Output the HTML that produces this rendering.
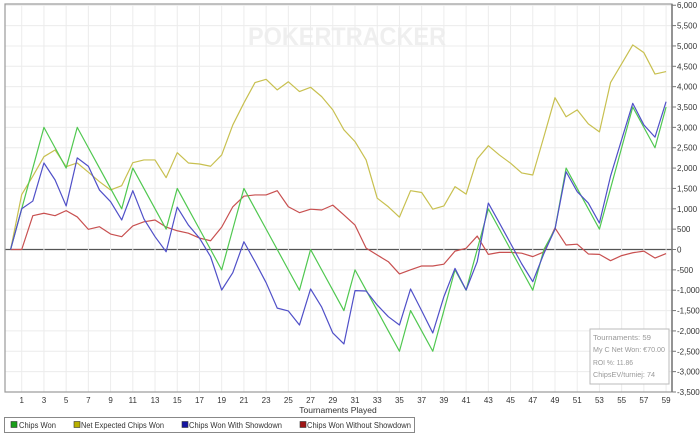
<!DOCTYPE html>
<html><head><meta charset="utf-8"><style>
body{margin:0;background:#fff;}
svg{display:block;font-family:"Liberation Sans",sans-serif;}
</style></head><body>
<svg id="chart" width="700" height="440" viewBox="0 0 700 440">
<rect x="0" y="0" width="700" height="440" fill="#fff"/>
<text x="248" y="45" font-size="25" font-weight="bold" fill="#efefef" textLength="198" lengthAdjust="spacingAndGlyphs">POKERTRACKER</text>
<g id="grid"></g>
<g id="axes"></g>
<g id="series"></g>
<rect x="5" y="4" width="667" height="388" fill="none" stroke="#9a9a9a" stroke-width="1.2"/>
<line x1="672" y1="4" x2="672" y2="392" stroke="#777" stroke-width="1.5"/>
<text x="338" y="413" font-size="8.5" fill="#333" text-anchor="middle">Tournaments Played</text>
<g>
<rect x="590" y="329" width="79" height="55" fill="#fff" stroke="#bbb"/>
<text x="593" y="340" font-size="7" fill="#999" textLength="58" lengthAdjust="spacingAndGlyphs">Tournaments: 59</text>
<text x="593" y="352" font-size="7" fill="#999" textLength="72" lengthAdjust="spacingAndGlyphs">My C Net Won: €70.00</text>
<text x="593" y="365" font-size="7" fill="#999" textLength="40" lengthAdjust="spacingAndGlyphs">ROI %: 11.86</text>
<text x="593" y="377" font-size="7" fill="#999" textLength="62" lengthAdjust="spacingAndGlyphs">ChipsEV/turniej: 74</text>
</g>
<g>
<rect x="4.5" y="417.5" width="410" height="15" fill="#fff" stroke="#888"/>
<g><rect x="11" y="421.5" width="6" height="6" fill="#1a9f1a" stroke="#333" stroke-width="0.6"/><text x="19" y="428" font-size="8" fill="#333" textLength="37" lengthAdjust="spacingAndGlyphs">Chips Won</text></g>
<g><rect x="74" y="421.5" width="6" height="6" fill="#b8b000" stroke="#333" stroke-width="0.6"/><text x="81" y="428" font-size="8" fill="#333" textLength="83" lengthAdjust="spacingAndGlyphs">Net Expected Chips Won</text></g>
<g><rect x="182" y="421.5" width="6" height="6" fill="#1515a0" stroke="#333" stroke-width="0.6"/><text x="189" y="428" font-size="8" fill="#333" textLength="93" lengthAdjust="spacingAndGlyphs">Chips Won With Showdown</text></g>
<g><rect x="300" y="421.5" width="6" height="6" fill="#a01515" stroke="#333" stroke-width="0.6"/><text x="307" y="428" font-size="8" fill="#333" textLength="104" lengthAdjust="spacingAndGlyphs">Chips Won Without Showdown</text></g>
</g>
</svg>
<script>
const chipsWon=[0,1000,2000,3000,2500,2000,3000,2500,2000,1500,1000,2000,1500,1000,500,1500,1000,500,0,-500,500,1500,1000,500,0,-500,-1000,0,-500,-1000,-1500,-500,-1000,-1500,-2000,-2500,-1500,-2000,-2500,-1500,-500,-1000,0,1000,500,0,-500,-1000,0,500,2000,1500,1000,500,1500,2500,3500,3000,2500,3500];
const netExpected=[0,1350,1800,2280,2445,2035,2125,1900,1666,1462,1568,2133,2200,2200,1765,2378,2125,2100,2045,2322,3060,3600,4100,4180,3920,4120,3880,3985,3755,3430,2940,2650,2200,1260,1050,795,1445,1400,990,1070,1543,1360,2225,2550,2320,2120,1880,1830,2770,3730,3260,3430,3085,2890,4100,4560,5025,4835,4310,4370];
const withShowdown=[0,1000,1190,2125,1710,1070,2250,2045,1460,1175,725,1445,750,315,-55,1040,600,280,-175,-995,-570,190,-300,-815,-1440,-1510,-1855,-970,-1415,-2050,-2320,-1010,-1020,-1365,-1650,-1855,-970,-1505,-2050,-1160,-465,-995,-300,1140,650,150,-350,-790,-100,500,1910,1420,1140,650,1800,2700,3590,3060,2760,3630];
const withoutShowdown=[0,0,830,890,830,955,800,495,560,380,315,580,680,725,550,460,400,280,215,550,1050,1310,1340,1340,1445,1050,905,990,970,1090,850,600,35,-135,-300,-600,-500,-405,-405,-360,-40,30,330,-120,-70,-70,-90,-175,-60,530,110,130,-110,-120,-275,-150,-80,-40,-210,-100];
const yTicks=[6000,5500,5000,4500,4000,3500,3000,2500,2000,1500,1000,500,0,-500,-1000,-1500,-2000,-2500,-3000,-3500];
const xTicks=[1,3,5,7,9,11,13,15,17,19,21,23,25,27,29,31,33,35,37,39,41,43,45,47,49,51,53,55,57,59];
const NS='http://www.w3.org/2000/svg';
const x=i=>10.6+i*11.11;
const y=v=>249.5-v*0.04071;
function mk(tag,attrs,parent){const e=document.createElementNS(NS,tag);for(const k in attrs)e.setAttribute(k,attrs[k]);parent.appendChild(e);return e;}
const grid=document.getElementById('grid'),axes=document.getElementById('axes'),series=document.getElementById('series');
yTicks.forEach(v=>{
  const l=mk('line',{x1:5,x2:672,y1:y(v),y2:y(v),stroke:v===0?'#555':'#ececec','stroke-width':v===0?1.2:1},grid);
  
  
  const t=mk('line',{x1:672,x2:676,y1:y(v),y2:y(v),stroke:'#777'},axes);
  
  
  const tx=mk('text',{x:677,y:y(v)+3,'font-size':8,fill:'#333'},axes);
  tx.textContent=v.toLocaleString('en-US');
  
  
});
xTicks.forEach(n=>{
  const l=mk('line',{x1:x(n),x2:x(n),y1:5,y2:392,stroke:'#ececec'},grid);
  
  
  const tx=mk('text',{x:x(n),y:403,'font-size':8,fill:'#333','text-anchor':'middle'},axes);
  tx.textContent=n;
  
  
});
function line(data,color,name){
  const p=mk('polyline',{points:data.map((v,i)=>x(i)+','+y(v)).join(' '),fill:'none',stroke:color,'stroke-width':1.2,'stroke-linejoin':'round'},series);
  
  
}
line(netExpected,'#c8c050','net-expected-line');
line(withoutShowdown,'#c85050','without-showdown-line');
line(chipsWon,'#50c850','chips-won-line');
line(withShowdown,'#5050c8','with-showdown-line');
</script>
</body></html>
